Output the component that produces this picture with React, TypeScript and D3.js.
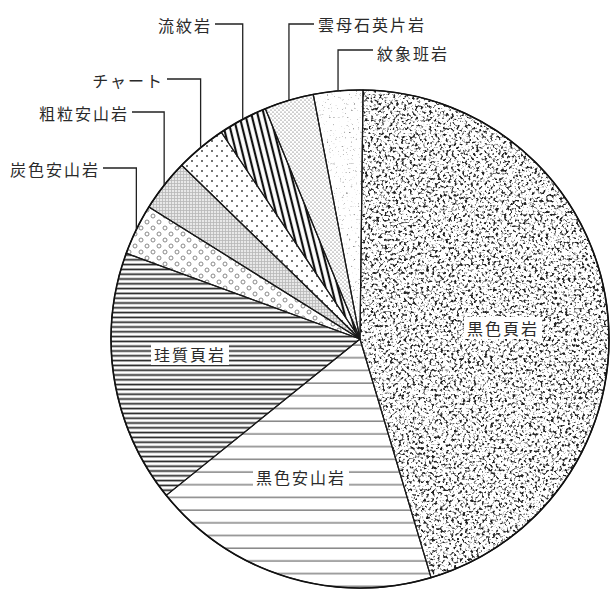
import React, { useRef, useEffect } from 'react';
import * as d3 from 'd3';

// rock types, clockwise from 12 o'clock
const categories = ['黒色頁岩', '黒色安山岩', '珪質頁岩', '炭色安山岩', '粗粒安山岩', 'チャート', '流紋岩', '雲母石英片岩', '紋象班岩'];
const shares = [45.2, 18.8, 16.4, 3.3, 3.4, 3.3, 3.2, 3.2, 3.2];

// labels drawn inside the pie (white box behind)
const insideLabels = ['黒色頁岩', '黒色安山岩', '珪質頁岩'];
const insidePos: Record<string, [number, number]> = {
  '黒色頁岩': [503, 328],
  '黒色安山岩': [301, 477],
  '珪質頁岩': [190, 354],
};

// labels outside with leader lines: text edge x, text y, leader y, side
const outsideLabels = ['炭色安山岩', '粗粒安山岩', 'チャート', '流紋岩', '雲母石英片岩', '紋象班岩'];
const outsidePos: Record<string, { x: number; y: number; ly: number; side: 'left' | 'right' }> = {
  '炭色安山岩': { x: 100, y: 169, ly: 168, side: 'left' },
  '粗粒安山岩': { x: 129, y: 113, ly: 112, side: 'left' },
  'チャート': { x: 164, y: 80, ly: 79, side: 'left' },
  '流紋岩': { x: 212, y: 25, ly: 24, side: 'left' },
  '雲母石英片岩': { x: 318, y: 24, ly: 24, side: 'right' },
  '紋象班岩': { x: 377, y: 53, ly: 50, side: 'right' },
};

const W = 610;
const H = 595;
const CX = 360;
const CY = 339;
const R = 249;
const FONT = '"Noto Sans CJK JP", "Noto Sans", sans-serif';

const PieChart: React.FC = () => {
  const svgRef = useRef<SVGSVGElement | null>(null);

  useEffect(() => {
    if (!svgRef.current) return;
    const svg = d3.select(svgRef.current);
    svg.selectAll('*').remove();

    const defs = svg.append('defs');

    // speckle textures from turbulence
    const speck = (id: string, freq: number, k: number, b: number, tone: number, seed: number) => {
      const f = defs.append('filter').attr('id', id)
        .attr('x', 0).attr('y', 0).attr('width', 1).attr('height', 1)
        .attr('color-interpolation-filters', 'sRGB');
      f.append('feTurbulence').attr('type', 'fractalNoise')
        .attr('baseFrequency', freq).attr('numOctaves', 2).attr('seed', seed).attr('result', 'n');
      f.append('feColorMatrix').attr('in', 'n').attr('type', 'matrix')
        .attr('values', `0 0 0 0 ${tone}  0 0 0 0 ${tone}  0 0 0 0 ${tone}  ${k} 0 0 0 ${b}`)
        .attr('result', 's');
      f.append('feComposite').attr('in', 's').attr('in2', 'SourceAlpha').attr('operator', 'in');
    };
    speck('speckDark', 0.36, 5.5, -2.85, 0.13, 7);
    speck('speckLight', 0.45, 5, -3.3, 0.55, 11);

    // wide horizontal lines
    const p1 = defs.append('pattern').attr('id', 'hWide').attr('patternUnits', 'userSpaceOnUse')
      .attr('width', 10).attr('height', 12.7);
    p1.append('line').attr('x1', 0).attr('x2', 10).attr('y1', 6).attr('y2', 6)
      .attr('stroke', '#555').attr('stroke-width', 1.1);

    // dense horizontal lines
    const p2 = defs.append('pattern').attr('id', 'hDense').attr('patternUnits', 'userSpaceOnUse')
      .attr('width', 10).attr('height', 4.8);
    p2.append('line').attr('x1', 0).attr('x2', 10).attr('y1', 2.4).attr('y2', 2.4)
      .attr('stroke', '#222').attr('stroke-width', 1.7);

    // small open circles
    const p3 = defs.append('pattern').attr('id', 'rings').attr('patternUnits', 'userSpaceOnUse')
      .attr('width', 12).attr('height', 12);
    [[3, 3], [9, 9]].forEach(([x, y]) => {
      p3.append('circle').attr('cx', x).attr('cy', y).attr('r', 2)
        .attr('fill', 'none').attr('stroke', '#888').attr('stroke-width', 1);
    });

    // fine light grid
    const p4 = defs.append('pattern').attr('id', 'grid').attr('patternUnits', 'userSpaceOnUse')
      .attr('width', 3).attr('height', 3);
    p4.append('rect').attr('width', 3).attr('height', 3).attr('fill', '#e8e8e8');
    p4.append('path').attr('d', 'M0,0.5H3M0.5,0V3').attr('stroke', '#b8b8b8').attr('stroke-width', 0.8);

    // sparse dots
    const p5 = defs.append('pattern').attr('id', 'dots').attr('patternUnits', 'userSpaceOnUse')
      .attr('width', 10).attr('height', 10);
    [[2, 2], [7, 7]].forEach(([x, y]) => {
      p5.append('circle').attr('cx', x).attr('cy', y).attr('r', 1).attr('fill', '#444');
    });

    // diagonal stripes
    const p6 = defs.append('pattern').attr('id', 'stripes').attr('patternUnits', 'userSpaceOnUse')
      .attr('width', 6).attr('height', 10).attr('patternTransform', 'rotate(-14)');
    p6.append('line').attr('x1', 3).attr('x2', 3).attr('y1', 0).attr('y2', 10)
      .attr('stroke', '#111').attr('stroke-width', 2.2);

    // fine dot screen
    const p7 = defs.append('pattern').attr('id', 'fineDots').attr('patternUnits', 'userSpaceOnUse')
      .attr('width', 4).attr('height', 4);
    [[1, 1], [3, 3]].forEach(([x, y]) => {
      p7.append('circle').attr('cx', x).attr('cy', y).attr('r', 0.6).attr('fill', '#444');
    });

    const fills: Record<string, string> = {
      '黒色頁岩': 'white',
      '黒色安山岩': 'url(#hWide)',
      '珪質頁岩': 'url(#hDense)',
      '炭色安山岩': 'url(#rings)',
      '粗粒安山岩': 'url(#grid)',
      'チャート': 'url(#dots)',
      '流紋岩': 'url(#stripes)',
      '雲母石英片岩': 'url(#fineDots)',
      '紋象班岩': 'white',
    };
    const overlays: Record<string, string> = {
      '黒色頁岩': 'url(#speckDark)',
      '紋象班岩': 'url(#speckLight)',
    };

    const data = categories.map((c, i) => ({ name: c, value: shares[i] }));
    const offset = 0.7 * Math.PI / 180;
    const pie = d3.pie<{ name: string; value: number }>()
      .sort(null)
      .value(d => d.value)
      .startAngle(offset)
      .endAngle(Math.PI * 2 + offset);
    const arcs = pie(data);
    const arc = d3.arc<d3.PieArcDatum<{ name: string; value: number }>>()
      .innerRadius(0)
      .outerRadius(R);

    const g = svg.append('g').attr('transform', `translate(${CX},${CY})`);

    g.selectAll('path.fill')
      .data(arcs)
      .join('path')
      .attr('class', 'fill')
      .attr('d', arc)
      .attr('fill', d => fills[d.data.name]);

    g.selectAll('path.speck')
      .data(arcs.filter(d => overlays[d.data.name]))
      .join('path')
      .attr('class', 'speck')
      .attr('d', arc)
      .attr('fill', 'black')
      .attr('filter', d => overlays[d.data.name]);

    // slice borders
    g.selectAll('path.edge')
      .data(arcs)
      .join('path')
      .attr('class', 'edge')
      .attr('d', arc)
      .attr('fill', 'none')
      .attr('stroke', '#1a1a1a')
      .attr('stroke-width', 1.2)
      .attr('stroke-linejoin', 'round');

    g.append('circle').attr('r', R).attr('fill', 'none')
      .attr('stroke', '#111').attr('stroke-width', 1.6);

    // inside labels
    insideLabels.forEach(name => {
      const [x, y] = insidePos[name];
      const fs = 16;
      const w = name.length * (fs + 2) + 6;
      svg.append('rect')
        .attr('x', x - w / 2).attr('y', y - fs / 2 - 3)
        .attr('width', w).attr('height', fs + 6)
        .attr('fill', 'white');
      svg.append('text')
        .attr('x', x).attr('y', y)
        .attr('text-anchor', 'middle')
        .attr('dominant-baseline', 'central')
        .attr('font-family', FONT)
        .attr('font-size', fs)
        .attr('letter-spacing', 2)
        .attr('fill', '#2a2a2a')
        .text(name);
    });

    // outside labels with leaders
    outsideLabels.forEach(name => {
      const a = arcs.find(d => d.data.name === name)!;
      const mid = (a.startAngle + a.endAngle) / 2;
      const px = CX + R * Math.sin(mid);
      const py = CY - R * Math.cos(mid);
      const p = outsidePos[name];
      const startX = p.side === 'left' ? p.x + 3 : p.x - 4;
      svg.append('path')
        .attr('d', `M${startX},${p.ly}H${px}V${py}`)
        .attr('fill', 'none')
        .attr('stroke', '#222')
        .attr('stroke-width', 1.3);
      svg.append('text')
        .attr('x', p.x).attr('y', p.y)
        .attr('text-anchor', p.side === 'left' ? 'end' : 'start')
        .attr('dominant-baseline', 'central')
        .attr('font-family', FONT)
        .attr('font-size', 16)
        .attr('letter-spacing', 2)
        .attr('fill', '#2a2a2a')
        .text(name);
    });

    return () => {
      svg.selectAll('*').remove();
    };
  }, []);

  return (
    <svg
      ref={svgRef}
      width={W}
      height={H}
      style={{ position: 'absolute', left: 0, top: 0, background: 'white' }}
    />
  );
};

export default function App() {
  return <PieChart />;
}
